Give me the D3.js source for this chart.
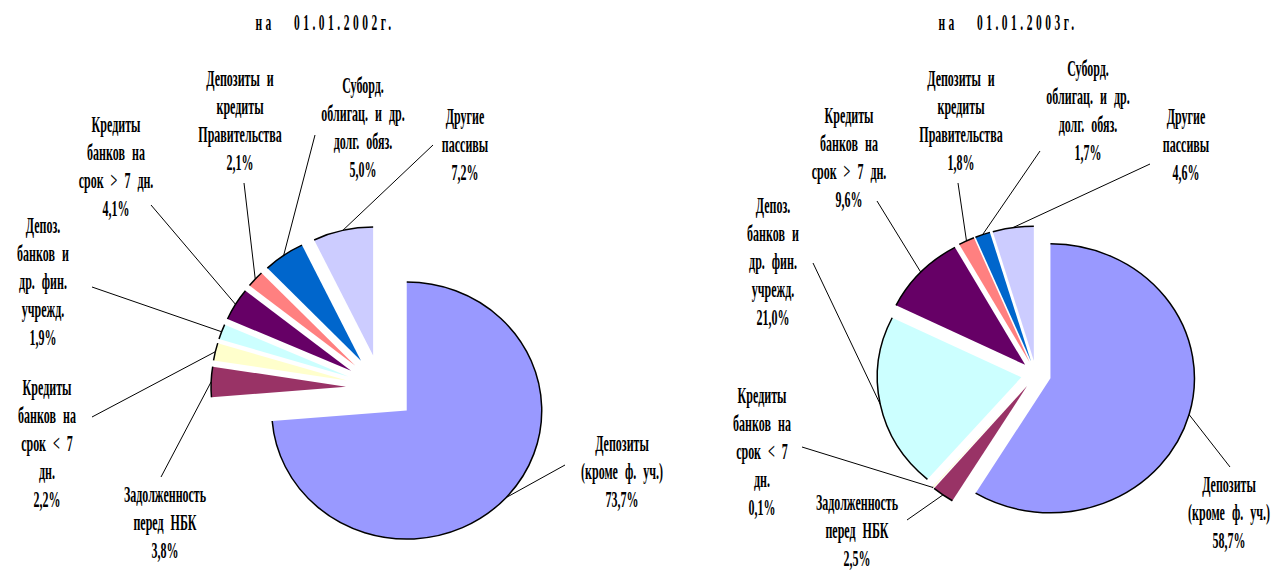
<!DOCTYPE html>
<html>
<head>
<meta charset="utf-8">
<script src="https://cdn.jsdelivr.net/npm/d3@7"></script>
<style>
  body { margin: 0; background: #fff; }
  svg { display: block; }
  text { font-family: 'Liberation Serif', 'Times New Roman', serif; fill: #000; }
</style>
</head>
<body>
<div id="chart"></div>
<script>
// categories (label lines) and values
const categories = [
  ['Депозиты', '(кроме ф. уч.)'],
  ['Задолженность', 'перед НБК'],
  ['Кредиты', 'банков на', 'срок < 7', 'дн.'],
  ['Депоз.', 'банков и', 'др. фин.', 'учрежд.'],
  ['Кредиты', 'банков на', 'срок > 7 дн.'],
  ['Депозиты и', 'кредиты', 'Правительства'],
  ['Суборд.', 'облигац. и др.', 'долг. обяз.'],
  ['Другие', 'пассивы']
];
const values2002 = [73.7, 3.8, 2.2, 1.9, 4.1, 2.1, 5.0, 7.2];
const values2003 = [58.7, 2.5, 0.1, 21.0, 9.6, 1.8, 1.7, 4.6];
const titles = ['на   01.01.2002г.', 'на   01.01.2003г.'];

const colors = ['#9999FF', '#993366', '#FFFFCC', '#CCFFFF', '#660066', '#FF8080', '#0066CC', '#CCCCFF'];

const width = 1282, height = 570;
const lineH = 28;
const fontSize = 24;
const squeeze = 0.5;

// layout of each pie: centre, radii, explosion, label anchors (x, first baseline) and leader starts
const layouts = [
  {
    values: values2002, title: titles[0], titleX: 325,
    cx: 381, cy: 388, rx: 135, ry: 128.5, explode: 35,
    labels: [
      { x: 622, y: 451, lx: 565, ly: 465 },
      { x: 165, y: 502, lx: 161, ly: 477 },
      { x: 47, y: 395, lx: 92, ly: 417 },
      { x: 43, y: 233, lx: 92, ly: 287 },
      { x: 116, y: 132, lx: 151, ly: 205 },
      { x: 240, y: 86, lx: 244, ly: 183 },
      { x: 363, y: 93, lx: 315, ly: 135 },
      { x: 465, y: 124, lx: 433, ly: 145 }
    ]
  },
  {
    values: values2003, title: titles[1], titleX: 1008,
    cx: 1036, cy: 374.5, rx: 144, ry: 134.5, explode: 15,
    labels: [
      { x: 1229, y: 492, lx: 1230, ly: 467 },
      { x: 857, y: 510, lx: 907, ly: 520 },
      { x: 762, y: 403, lx: 802, ly: 447 },
      { x: 773, y: 213, lx: 813, ly: 263 },
      { x: 849, y: 123, lx: 877, ly: 201 },
      { x: 961, y: 86, lx: 958, ly: 183 },
      { x: 1088, y: 76, lx: 1040, ly: 151 },
      { x: 1186, y: 124, lx: 1150, ly: 164 }
    ]
  }
];

const fmt = v => d3.format('.1f')(v).replace('.', ',') + '%';

const svg = d3.select('#chart').append('svg')
  .attr('width', width)
  .attr('height', height);

const pie = d3.pie().sort(null).value(d => d).startAngle(0).endAngle(2 * Math.PI);

layouts.forEach(L => {
  const arcs = pie(L.values);
  const k = L.ry / L.rx;
  const arc = d3.arc().innerRadius(0).outerRadius(L.rx);

  const g = svg.append('g');

  // title
  g.append('g')
    .attr('transform', `translate(${L.titleX},30) scale(${squeeze},1)`)
    .append('text')
    .attr('text-anchor', 'middle')
    .attr('font-size', 23)
    .attr('font-weight', 'bold')
    .attr('letter-spacing', 7)
    .attr('xml:space', 'preserve')
    .text(L.title);

  const mid = d => (d.startAngle + d.endAngle) / 2;
  const vx = d => L.cx + L.explode * Math.sin(mid(d));
  const vy = d => L.cy - L.explode * Math.cos(mid(d)) * k;

  const slice = g.selectAll('g.slice')
    .data(arcs)
    .enter()
    .append('g')
    .attr('class', 'slice')
    .attr('transform', d => `translate(${vx(d)},${vy(d)}) scale(1,${k})`);

  slice.append('path')
    .attr('d', arc)
    .attr('fill', (d, i) => colors[i]);

  // outline only along the outer rim
  slice.append('path')
    .attr('d', d => {
      const p = d3.path();
      p.arc(0, 0, L.rx, d.startAngle - Math.PI / 2, d.endAngle - Math.PI / 2);
      return p.toString();
    })
    .attr('fill', 'none')
    .attr('stroke', '#000')
    .attr('stroke-width', 1.5)
    .attr('vector-effect', 'non-scaling-stroke');

  // leader lines
  g.selectAll('line.leader')
    .data(arcs)
    .enter()
    .append('line')
    .attr('class', 'leader')
    .attr('x1', (d, i) => L.labels[i].lx)
    .attr('y1', (d, i) => L.labels[i].ly)
    .attr('x2', d => vx(d) + L.rx * Math.sin(mid(d)))
    .attr('y2', d => vy(d) - L.ry * Math.cos(mid(d)))
    .attr('stroke', '#000')
    .attr('stroke-width', 1);

  // labels
  const lab = g.selectAll('g.label')
    .data(arcs)
    .enter()
    .append('g')
    .attr('class', 'label')
    .attr('transform', (d, i) => `translate(${L.labels[i].x},${L.labels[i].y}) scale(${squeeze},1)`)
    .append('text')
    .attr('text-anchor', 'middle')
    .attr('font-size', fontSize)
    .attr('font-weight', 'bold')
    .attr('word-spacing', 8);

  lab.each(function(d, i) {
    const lines = categories[i].concat([fmt(d.data)]);
    d3.select(this).selectAll('tspan')
      .data(lines)
      .enter()
      .append('tspan')
      .attr('x', 0)
      .attr('dy', (t, j) => j === 0 ? 0 : lineH)
      .text(t => t);
  });
});
</script>
</body>
</html>
